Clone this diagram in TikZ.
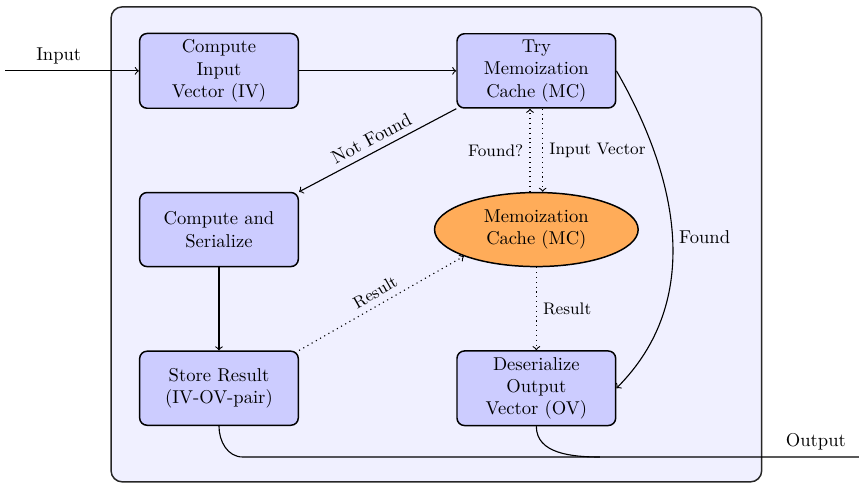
\documentclass[tikz,border=0pt]{standalone}
\usetikzlibrary{shapes.geometric}

\begin{document}
\begin{tikzpicture}[semithick]

\def\xsec{6}
\def\yrow{3}
\tikzset{
block/.style = {draw, thick, fill=blue!20, rounded corners, align=center,
	minimum width=3cm, minimum height=1.4cm},
cache/.style = {draw, thick, ellipse, fill=orange!65, align=center,
	minimum width=3.85cm, minimum height=1.4cm, inner sep=0pt},
lbl/.style = {font=\small}
}

\useasboundingbox (-4.14,1.34) rectangle (12.10,-7.79);

% frame
\draw[thick, black!85, fill=blue!6, rounded corners=6pt] (-2.04,1.21) rectangle (10.26,-7.77);

\node (civ)   at (0,0)               [block] {Compute\\Input\\Vector (IV)};
\node (try)   at (\xsec,0)           [block] {Try\\Memoization\\Cache (MC)};
\node (ser)   at (0,-\yrow)          [block] {Compute and\\Serialize};
\node (mc)    at (\xsec,-\yrow)      [cache] {Memoization\\Cache (MC)};
\node (store) at (0,-2*\yrow)        [block] {Store Result\\(IV-OV-pair)};
\node (deser) at (\xsec,-2*\yrow)    [block] {Deserialize\\Output\\Vector (OV)};

\coordinate (in)    at (-4.04,0);
\coordinate (out)   at (12.10,-7.3);
\coordinate (join)  at (0.45,-7.3);
\coordinate (joinb) at (7.2,-7.3);

\draw[->] (in) -- node[pos=0.4,above] {Input} (civ);
\draw[->] (civ) -- (try);
\draw[->] (try.south west) -- node[above,sloped] {Not Found} (ser.north east);

\draw[->,dotted] ([xshift=-0.12cm]mc.north) -- node[left,lbl] {Found?} ([xshift=-0.12cm]try.south);
\draw[->,dotted] ([xshift=0.12cm]try.south) -- node[right,lbl] {Input Vector} ([xshift=0.12cm]mc.north);
\draw[->,dotted] (mc) -- node[right,lbl] {Result} (deser);

\draw[->] (ser) -- (store);
\draw[->,dotted] (store.north east) -- node[above,sloped,lbl] {Result} (mc.south west);

\draw[->] (try.east) to [out=-60,in=45] node[right] {Found} (deser.east);

\draw (store.south) to [out=-90,in=180] (join) -- node[pos=0.93,above] {Output} (out);
\draw (deser.south) to [out=-90,in=180] (joinb);

%\draw [help lines] grid (10,-7);

\end{tikzpicture}
\end{document}
